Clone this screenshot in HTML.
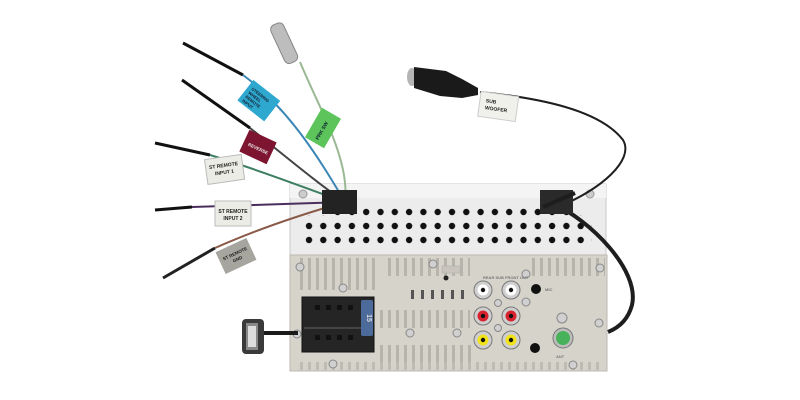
<!DOCTYPE html>
<html><head><meta charset="utf-8"><style>
html,body{margin:0;padding:0;background:#fff;width:800px;height:400px;overflow:hidden}
svg{display:block}
text{font-family:"Liberation Sans",sans-serif;font-weight:bold}
</style></head><body>
<svg width="800" height="400" viewBox="0 0 800 400" xmlns="http://www.w3.org/2000/svg">
<defs>
<pattern id="holes" x="302" y="205" width="14.3" height="14" patternUnits="userSpaceOnUse">
<circle cx="7" cy="7" r="3.2" fill="#111"/></pattern>
<pattern id="fins" x="290" y="0" width="8" height="400" patternUnits="userSpaceOnUse">
<rect x="2" y="0" width="3" height="400" fill="#b3b0a8"/></pattern>
</defs>

<rect x="290" y="184" width="316" height="72" fill="#ececec" stroke="#c9c9c9"/>
<rect x="290" y="184" width="316" height="14" fill="#f4f4f4"/>
<rect x="300" y="203" width="292" height="47" fill="url(#holes)"/>
<rect x="300" y="203" width="30" height="12" fill="#ececec"/>
<rect x="570" y="203" width="30" height="12" fill="#ececec"/>
<circle cx="303" cy="194" r="4" fill="#ccc" stroke="#999"/>
<circle cx="590" cy="194" r="4" fill="#ccc" stroke="#999"/>

<rect x="290" y="255" width="317" height="116" fill="#d6d3cb" stroke="#bdb9b0"/>
<rect x="297" y="258" width="80" height="32" fill="url(#fins)" opacity="0.9"/>
<rect x="385" y="258" width="85" height="18" fill="url(#fins)" opacity="0.9"/>
<rect x="530" y="258" width="75" height="18" fill="url(#fins)" opacity="0.9"/>
<rect x="380" y="310" width="90" height="18" fill="url(#fins)" opacity="0.9"/>
<rect x="378" y="345" width="95" height="17" fill="url(#fins)" opacity="0.9"/>
<rect x="300" y="362" width="300" height="8" fill="url(#fins)" opacity="0.7"/>
<g fill="#555"><rect x="411" y="290" width="3" height="9"/><rect x="421" y="290" width="3" height="9"/><rect x="431" y="290" width="3" height="9"/><rect x="441" y="290" width="3" height="9"/><rect x="451" y="290" width="3" height="9"/><rect x="461" y="290" width="3" height="9"/></g>
<circle cx="446" cy="278" r="2.5" fill="#222"/>
<rect x="442" y="266" width="18" height="7" fill="#c9c5bc" stroke="#aaa" stroke-width="0.5"/>
<g fill="#d0d0d0" stroke="#888" stroke-width="1">
<circle cx="300" cy="267" r="4"/><circle cx="297" cy="334" r="4"/><circle cx="333" cy="364" r="4"/>
<circle cx="343" cy="288" r="4"/><circle cx="433" cy="264" r="4"/><circle cx="410" cy="333" r="4"/>
<circle cx="457" cy="333" r="4"/><circle cx="526" cy="274" r="4"/><circle cx="526" cy="302" r="4"/>
<circle cx="498" cy="303" r="3.5"/><circle cx="498" cy="328" r="3.5"/><circle cx="562" cy="318" r="5"/>
<circle cx="600" cy="268" r="4"/><circle cx="599" cy="323" r="4"/><circle cx="573" cy="365" r="4"/>
</g>
<rect x="302" y="297" width="72" height="55" fill="#252525" stroke="#111"/>
<rect x="304" y="327" width="58" height="2" fill="#444"/>
<g fill="#111"><rect x="315" y="305" width="5" height="5"/><rect x="326" y="305" width="5" height="5"/><rect x="337" y="305" width="5" height="5"/><rect x="348" y="305" width="5" height="5"/><rect x="315" y="335" width="5" height="5"/><rect x="326" y="335" width="5" height="5"/><rect x="337" y="335" width="5" height="5"/><rect x="348" y="335" width="5" height="5"/></g>
<rect x="361" y="300" width="12" height="36" rx="2" fill="#4c6a9a"/>
<text x="367" y="318" font-size="7" fill="#ddd" text-anchor="middle" transform="rotate(90 367 318)">15</text>
<g>
<circle cx="483" cy="290" r="9" fill="#cfcfcf" stroke="#777"/><circle cx="483" cy="290" r="5.5" fill="#fff"/><circle cx="483" cy="290" r="2.2" fill="#111"/>
<circle cx="511" cy="290" r="9" fill="#cfcfcf" stroke="#777"/><circle cx="511" cy="290" r="5.5" fill="#fff"/><circle cx="511" cy="290" r="2.2" fill="#111"/>
<circle cx="483" cy="316" r="9" fill="#cfcfcf" stroke="#777"/><circle cx="483" cy="316" r="5.5" fill="#d8222e"/><circle cx="483" cy="316" r="2.2" fill="#111"/>
<circle cx="511" cy="316" r="9" fill="#cfcfcf" stroke="#777"/><circle cx="511" cy="316" r="5.5" fill="#d8222e"/><circle cx="511" cy="316" r="2.2" fill="#111"/>
<circle cx="483" cy="340" r="9" fill="#cfcfcf" stroke="#777"/><circle cx="483" cy="340" r="5.5" fill="#f2e21a"/><circle cx="483" cy="340" r="2.2" fill="#111"/>
<circle cx="511" cy="340" r="9" fill="#cfcfcf" stroke="#777"/><circle cx="511" cy="340" r="5.5" fill="#f2e21a"/><circle cx="511" cy="340" r="2.2" fill="#111"/>
<circle cx="536" cy="289" r="5" fill="#111"/><circle cx="535" cy="348" r="5" fill="#111"/>
<circle cx="563" cy="338" r="10" fill="#bdbdbd" stroke="#777"/><circle cx="563" cy="338" r="7" fill="#47b25a"/>
</g>
<g font-size="4" fill="#777"><text x="483" y="279">REAR SUB FRONT OUT</text><text x="545" y="291">MIC</text><text x="556" y="358">ANT</text></g>

<path d="M552 203 C590 220 640 270 632 305 C628 320 618 328 608 332" fill="none" stroke="#1e1e1e" stroke-width="4"/>
<path d="M480 92 C540 98 600 110 623 140 C635 160 600 190 560 206" fill="none" stroke="#1e1e1e" stroke-width="2"/>
<rect x="540" y="190" width="33" height="24" fill="#2a2a2a"/>
<path d="M543 207 L575 193" stroke="#1e1e1e" stroke-width="4"/>

<ellipse cx="412" cy="77" rx="5" ry="9" fill="#b5b5b5"/>
<path d="M414 67 L446 71 L462 79 L478 88 L478 95 L462 98 L440 96 L414 88 Z" fill="#1a1a1a"/>
<g transform="rotate(8 498 108)"><rect x="479" y="94" width="38" height="25" fill="#f1f1ec" stroke="#ccc"/>
<text x="485" y="104" font-size="5" fill="#222">SUB</text><text x="485" y="111" font-size="5" fill="#222">WOOFER</text></g>

<g fill="none" stroke-width="2">
<path d="M183 43 L243 75" stroke="#111" stroke-width="3"/><path d="M243 75 C290 110 320 160 345 202" stroke="#3a86b5"/>
<path d="M182 80 L250 128" stroke="#111" stroke-width="3"/><path d="M250 128 C290 160 320 185 345 202" stroke="#444"/>
<path d="M155 143 L210 155" stroke="#111" stroke-width="3"/><path d="M210 155 C260 170 310 190 345 202" stroke="#3d7f60"/>
<path d="M155 210 L192 207" stroke="#111" stroke-width="3"/><path d="M192 207 L345 202" stroke="#4a2f5e"/>
<path d="M163 278 L215 248" stroke="#222" stroke-width="3"/><path d="M215 248 C260 228 310 212 345 202" stroke="#8a5a48"/>
<path d="M300 62 C320 110 350 160 345 202" stroke="#9bb894"/>
</g>
<rect x="322" y="190" width="35" height="24" fill="#232323"/>
<g transform="rotate(-25 285 45)"><rect x="278" y="22" width="14" height="42" rx="5" fill="#bdbdbd" stroke="#888"/></g>

<g transform="rotate(38 258 100)"><rect x="242" y="87" width="34" height="26" fill="#2fa8cf"/>
<text x="246" y="96" font-size="4.2" fill="#123">STEERING</text><text x="246" y="101" font-size="4.2" fill="#123">WHEEL</text><text x="246" y="106" font-size="4.2" fill="#123">REMOTE</text><text x="246" y="111" font-size="4.2" fill="#123">INPUT</text></g>
<g transform="rotate(25 258 147)"><rect x="243" y="135" width="30" height="24" fill="#7d1530"/>
<text x="248" y="150" font-size="4.5" fill="#eee">REVERSE</text></g>
<g transform="rotate(-60 323 128)"><rect x="306" y="117" width="34" height="22" fill="#5cc45a"/>
<text x="310" y="130" font-size="5" fill="#123">PRK SW</text></g>
<g transform="rotate(-8 224 169)"><rect x="206" y="157" width="37" height="25" fill="#ecece6" stroke="#bbb"/>
<text x="224" y="167" font-size="5" text-anchor="middle" fill="#222">ST REMOTE</text><text x="224" y="174" font-size="5" text-anchor="middle" fill="#222">INPUT 1</text></g>
<g><rect x="215" y="201" width="36" height="25" fill="#ecece6" stroke="#bbb"/>
<text x="233" y="213" font-size="5" text-anchor="middle" fill="#222">ST REMOTE</text><text x="233" y="220" font-size="5" text-anchor="middle" fill="#222">INPUT 2</text></g>
<g transform="rotate(-25 236 256)"><rect x="219" y="244" width="34" height="24" fill="#a6a69e"/>
<text x="236" y="255" font-size="4.5" text-anchor="middle" fill="#222">ST REMOTE</text><text x="236" y="261" font-size="4.5" text-anchor="middle" fill="#222">GND</text></g>

<rect x="262" y="331" width="36" height="4" fill="#1a1a1a"/>
<rect x="242" y="319" width="22" height="35" rx="4" fill="#3a3a3a"/>
<rect x="246" y="323" width="12" height="27" fill="#888"/>
<rect x="248" y="326" width="8" height="21" fill="#ddd"/>
</svg>
</body></html>
